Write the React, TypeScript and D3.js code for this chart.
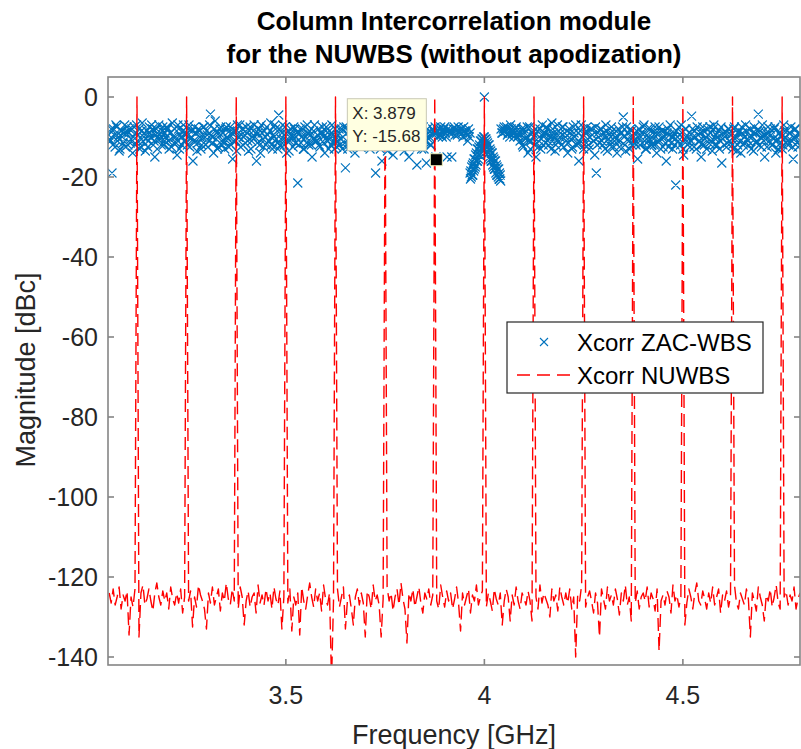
import React from "react";
import * as d3 from "d3";

// ---------- DATA ----------
// Xcorr ZAC-WBS (blue "x" markers), left part: start 3.054 GHz, step 0.004 GHz
const blueLeftStart = 3.054;
const blueLeftStep = 0.004;
const blueLeftValues = [
  -9.5,-11,-19,-8,-12.5,-7.5,-10,-13,-8.5,-11.5,-7,-9,
  -12,-8,-10.5,-14,-7.5,-9,-11,-8,-12.5,-6.5,-10,-13.5,
  -8.5,-11,-9,-7,-12,-15,-8,-10.5,-9.5,-12,-7.5,-11,
  -10,-8,-13,-9,-6.5,-11.5,-10,-14.5,-8,-9.5,-12,-7,
  -11,-9,-8,-12.5,-10,-16,-7.5,-9,-11.5,-8.5,-13,-10,
  -7.5,-12,-9.5,-11,-4.3,-10,-14,-6,-9,-12.5,-8,-11,
  -9,-13,-7.5,-10.5,-8.5,-12,-15.5,-9,-11,-7,-10,-12.5,
  -8,-10,-11.5,-9,-13.5,-7.5,-11,-8.5,-10,-16,-9,-12,
  -7,-10.5,-8.5,-12,-9.5,-11,-6.5,-13,-10,-8,-11.5,-4.5,
  -12,-9,-10.5,-7.5,-14,-8.5,-11,-9.5,-12.5,-8,-10,-21.5,
  -9,-11.5,-8,-13,-10,-7,-12,-9.5,-15,-8.5,-10.5,-11,
  -8,-12.5,-9,-10,-14,-7.5,-11,-8.5,-12,-9.5,-13,-10,
  -11,-8,-10.5,-13,-7.5,-17.7,-9,-12,-8.5,-10,-11.5,-14,
  -7,-10,-9,-12.5,-8,-11,-9.5,-12,-7.5,-12,-10.5,-8.5,
  -19,-11,-9,-13,-16,-8,-10.5,-12,-7.5,-9.5,-11,-14.5,
  -8.5,-10,-12,-9,-7,-11.5,-13.5,-8,-10,-15,-9.5,-11,
  -12,-8,-17,-10.5,-9,-13,-7.5,-11,-16.5,-9,-10,-12,
  -8,-9,-15,-8.5,-9.5,-7.5,-10,-8,-9,-15,-8.5,-9,
  -15,-8,-9.5,-8.5,-7.5,-9,-8,-10,-8.5,-9,-11,-10,
];
// second interleaved set, offset by half a step
const blueLeftValues2 = [
  -10.5,-8,-12,-9.5,-7,-11,-13.5,-8.5,-10,-9,-12.5,-7.5,
  -9,-11.5,-8,-10,-12,-7,-9.5,-13,-8.5,-11,-9,-10.5,
  -12.5,-7.5,-10,-8,-11,-9.5,-13,-7,-10.5,-8.5,-12,-9,
  -7.5,-11,-9,-12.5,-10,-8,-11.5,-7,-13,-10,-8.5,-11,
  -9.5,-12,-7,-10.5,-8.5,-11,-9,-13.5,-8,-10,-12,-7.5,
  -10,-8.5,-12.5,-7,-9.5,-11.5,-8,-10.5,-13,-9,-7.5,-12,
  -11,-8,-10,-12.5,-7.5,-9,-11,-8.5,-13.5,-10,-7,-9.5,
  -12,-9.5,-7.5,-11,-8.5,-13,-10,-7,-9,-11.5,-8,-14,
  -9,-12.5,-10,-7.5,-11,-8.5,-12,-9.5,-7,-10.5,-13,-8,
  -10.5,-7,-12,-9,-11,-13.5,-8,-10,-7.5,-11.5,-9,-12,
  -8,-10,-13,-7.5,-11.5,-9,-8.5,-12,-10.5,-7,-11,-9.5,
  -12,-9,-7.5,-11.5,-8.5,-10,-13,-9.5,-7,-11,-8,-12.5,
  -9.5,-12,-8,-10,-11.5,-7.5,-13,-8.5,-10.5,-12,-9,-7.5,
  -11,-8.5,-12.5,-10,-7,-9.5,-11.5,-8,-13,-9,-10.5,-12,
  -8,-10.5,-12,-7.5,-9,-11.5,-8.5,-13.5,-10,-7,-12,-9,
  -11.5,-8,-9.5,-12,-10,-7.5,-9,-11,-8.5,-12.5,-10,-7,
  -9,-12,-10.5,-8,-11,-7.5,-13,-9.5,-8,-10.5,-12,-9,
  -8.5,-7.5,-9,-10,-8,-9.5,-8.5,-7.5,-10,-8,-9,-8.5,
  -9,-7.5,-8,-9.5,-8.5,-8,-9,-7.5,-8.5,-9.5,-8,-9,
];
// right part: start 4.042 GHz, step 0.004 GHz
const blueRightStart = 4.042;
const blueRightStep = 0.004;
const blueRightValues = [
  -8,-9,-7.5,-8.5,-9.5,-8,-7,-9,-10,-8,-8.5,-9.5,
  -11,-8,-12.5,-9,-10,-14,-7.5,-11,-9,-12,-15,-8.5,
  -10,-13,-7,-9.5,-11.5,-8,-12,-10,-6.5,-9,-13.5,-11,
  -8.5,-10,-12,-7.5,-9,-11,-14,-8,-10.5,-12.5,-9,-7,
  -11.5,-16,-8.5,-10,-13,-9,-7.5,-12,-10,-8,-11,-14.5,
  -19,-9,-11.5,-8,-12,-10,-7,-13.5,-9.5,-11,-8.5,-12.5,
  -10,-14,-8,-11,-9,-5,-12,-7.5,-10.5,-13,-8.5,-11,
  -9,-12,-15.5,-8,-10,-11.5,-7,-13,-9.5,-11,-8,-12,
  -10.5,-7.5,-14,-9,-11,-8.5,-12.5,-10,-16,-8,-9.5,-11.5,
  -13,-9,-22,-10,-7.5,-12,-9,-14.5,-8,-11,-10,-12.5,
  -4.8,-10,-8.5,-13,-9.5,-11,-15,-7.5,-12,-10,-8,-11.5,
  -9,-13.5,-7,-10.5,-12,-8.5,-11,-16.5,-9,-10,-12.5,-8,
  -11,-9.5,-13,-7.5,-10,-12,-8.5,-14,-9,-11.5,-7,-10.5,
  -12,-8,-10,-13.5,-9,-11,-4.3,-8.5,-12.5,-10,-15,-9,
  -7.5,-11,-9.5,-12,-8,-14,-10.5,-9,-11.5,-13,-7,-10,
  -8.5,-12,-9,-11,-15.5,-8,-10,-12.5,-9.5,
];
const blueRightValues2 = [
  -9,-8,-8.5,-7.5,-9,-10,-8,-8.5,-9,-7.5,-10,-9,
  -9.5,-12,-8,-10.5,-7.5,-11,-13,-9,-10,-8,-11.5,-12.5,
  -8,-10.5,-12,-9,-7.5,-11,-9.5,-13,-8,-10,-12,-7,
  -11,-9,-7.5,-12.5,-10,-8.5,-11.5,-9,-13,-7.5,-10,-12,
  -9,-11.5,-7,-10,-12,-8.5,-10.5,-13,-8,-9.5,-11,-7.5,
  -12,-10,-8,-11,-9,-13,-8.5,-10.5,-12,-7.5,-9.5,-11,
  -8.5,-11,-12.5,-9,-7.5,-10,-13.5,-9,-11,-8,-12,-10,
  -11.5,-8.5,-10,-12,-9,-7.5,-11,-13,-8,-10.5,-12,-9,
  -12,-9,-11,-7.5,-13,-10,-8.5,-11.5,-9,-12.5,-7,-10,
  -10,-12,-8.5,-11,-9.5,-7,-13,-10.5,-8,-12,-9,-11,
  -8,-12.5,-10,-7.5,-11,-9,-12,-8.5,-10.5,-13,-9.5,-7.5,
  -11,-8,-12,-9.5,-10,-13,-7.5,-10.5,-12,-9,-11.5,-8,
  -9.5,-12,-8,-10.5,-13.5,-9,-11,-7.5,-12,-10,-8.5,-11,
  -10,-13,-9,-7.5,-11.5,-8.5,-12,-10,-7,-11,-9.5,-12.5,
  -9,-8,-12,-10.5,-7.5,-11,-13,-9,-10,-12,-8.5,-11.5,
  -11,-9,-7.5,-12.5,-10,-8,-11.5,-9,-12,
];
// "Λ" shaped cluster around 4 GHz: start 3.964 GHz, step 0.002 GHz
const blueNotchStart = 3.964;
const blueNotchStep = 0.002;
const blueNotchUpper = [
  -19,-18.5,-17.5,-17,-16.5,-15.5,-15.5,-14.5,-14,-13,-13,-12.5,-12,-11,-11,-10.5,-10.5,-10,-10,
  -10.5,-10.5,-11,-11.5,-12,-12,-13,-13.5,-14,-14,-15,-15.5,-16,-16,-17,-17.5,-18,-18,-19,-19.5,
];
const blueNotchLower = [
  -20.5,-20,-19.5,-19.5,-18.5,-18,-17.5,-17,-16,-16,-15.5,-14.5,-14.5,-14,-13,-13,-12.5,-12,-11.5,
  -12.5,-12.5,-13.5,-14,-14,-15,-15.5,-16,-16,-17,-17.5,-18,-18,-19,-19.5,-19.5,-20,-20.5,-20.5,-21,
];
const blueExtraFreq = [4.0];
const blueExtraValues = [0];

// Xcorr NUWBS (red dashed line): start 3.055 GHz, step 0.005 GHz
const redStart = 3.055;
const redStep = 0.005;
const redNoise = [
  -124,-126.5,-123,-127,-125,-122.5,-128,-124.5,-126,-123.5,
  -134.5,-125,-127.5,-123,-126,-135,-124,-122,-127,-125.5,
  -123,-126,-128.5,-124,-121.5,-125,-127,-123.5,-126,-124,
  -128,-122.5,-125.5,-127,-124,-126.5,-123,-129,-125,-124,
  -126,-123.5,-132.5,-125,-127.5,-122,-124.5,-126,-128,-133,
  -124,-126.5,-122.5,-127,-125,-123,-128.5,-124,-126,-121.5,
  -125.5,-127,-123,-126,-124,-128,-122.5,-125,-132,-126,
  -123.5,-127.5,-125,-124,-129,-122,-126.5,-124.5,-127,-123,
  -126,-124,-128,-122.5,-125.5,-127,-123.5,-133,-125,-124,
  -126.5,-123,-133.5,-125,-127,-124,-134.5,-122.5,-126,-128,
  -124.5,-121.5,-125,-127.5,-123,-126,-124,-128.5,-122,-125.5,
  -127,-124,-146,-126,-124,-123,-127.5,-125,-122.5,-133,
  -126,-124.5,-128,-132,-125,-123,-127,-124,-126.5,-135,
  -123.5,-125,-128,-122,-126,-124.5,-127,-135,-125.5,-124,
  -122.5,-126,-124,-128.5,-125,-123,-127,-121.5,-125.5,-128,
  -136.5,-124,-126,-123,-127.5,-125,-122.5,-126.5,-129,-124,
  -125.5,-123,-127,-124.5,-124,-126,-128,-122,-125,-127.5,
  -123.5,-126,-124,-128,-125.5,-122.5,-126.5,-133.5,-124,-127,
  -125,-123,-129,-124.5,-126,-122,-127,-125,-123.5,-124,
  -127.5,-124,-126,-128.5,-123,-125.5,-127,-124,-132,-126,
  -123,-125,-131,-124.5,-127,-122.5,-126,-128,-124,-125.5,
  -127,-123.5,-126,-131,-124,-125,-128,-122,-126.5,-124,
  -125.5,-127,-130,-123,-126,-124.5,-128.5,-122.5,-125,-127,
  -124,-126.5,-123,-128,-125,-140,-124.5,-126,-122,-124,
  -127.5,-125,-123.5,-126,-129,-124,-126.5,-135,-123,-125.5,
  -128,-122.5,-126,-124.5,-127,-123,-125.5,-129.5,-124,-126,
  -122,-127,-125,-131,-124,-126.5,-123.5,-128,-125,-124,
  -126,-122.5,-127.5,-124,-125.5,-128.5,-123,-138.5,-126,-124.5,
  -127,-123.5,-125,-129,-122,-126,-124.5,-127.5,-125,-124,
  -132,-126.5,-123,-125,-128,-124,-121.5,-126,-127,-123.5,
  -125.5,-128,-124,-126.5,-122.5,-127,-125,-123,-129,-124.5,
  -126,-123.5,-127.5,-125,-124,-122,-126.5,-128,-124,-125.5,
  -127,-123,-125.5,-135,-124,-126,-128.5,-122.5,-125,-127,
  -131,-124.5,-126,-123,-127.5,-125,-122,-126.5,-128,-124,
  -125,-123.5,-127,-124.5,-126,-122.5,-128,-125.5,-124,
];
const redSpikeFreqs = [3.125,3.25,3.375,3.5,3.625,3.75,3.875,4.0,4.125,4.25,4.375,4.5,4.625,4.75];
const redSpikeValue = 0;

// axis ticks and text
const xTicks = [3.5, 4, 4.5];
const yTicks = [-140, -120, -100, -80, -60, -40, -20, 0];
const xDomain = [3.052, 4.795];
const yDomain = [-142, 5];
const titleLines = ["Column Intercorrelation module", "for the NUWBS (without apodization)"];
const xLabel = "Frequency [GHz]";
const yLabel = "Magnitude [dBc]";
const legendLabels = ["Xcorr ZAC-WBS", "Xcorr NUWBS"];
const dataTip = { x: 3.879, y: -15.68 };

// ---------- COMPONENT ----------
export default function App() {
  const W = 801, H = 749;
  const L = 108, R = 800, T = 77, B = 665;
  const x = d3.scaleLinear().domain(xDomain).range([L, R]);
  const y = d3.scaleLinear().domain(yDomain).range([B, T]);

  const font = "'Liberation Sans', Arial, Helvetica, sans-serif";
  const axisColor = "#858585";
  const textColor = "#262626";

  // blue points
  const bluePts: [number, number][] = [];
  blueLeftValues.forEach((v, i) => bluePts.push([blueLeftStart + i * blueLeftStep, v]));
  blueLeftValues2.forEach((v, i) => bluePts.push([blueLeftStart + (i + 0.5) * blueLeftStep, v]));
  blueRightValues.forEach((v, i) => bluePts.push([blueRightStart + i * blueRightStep, v]));
  blueRightValues2.forEach((v, i) => bluePts.push([blueRightStart + (i + 0.5) * blueRightStep, v]));
  blueNotchUpper.forEach((v, i) => bluePts.push([blueNotchStart + i * blueNotchStep, v]));
  blueNotchLower.forEach((v, i) => bluePts.push([blueNotchStart + i * blueNotchStep + 0.001, v]));
  blueExtraFreq.forEach((f, i) => bluePts.push([f, blueExtraValues[i]]));

  const s = 4.5;
  const markerPath = bluePts
    .map(([f, v]) => {
      const px = x(f), py = y(v);
      return `M${px - s},${py - s}L${px + s},${py + s}M${px - s},${py + s}L${px + s},${py - s}`;
    })
    .join("");

  // red series
  const redVals = redNoise.slice();
  redSpikeFreqs.forEach((f) => {
    const idx = Math.round((f - redStart) / redStep);
    if (idx >= 0 && idx < redVals.length) redVals[idx] = redSpikeValue;
  });
  const redPts: [number, number][] = redVals.map((v, i) => [redStart + i * redStep, v]);
  const redLine = d3
    .line<[number, number]>()
    .x((d) => x(d[0]))
    .y((d) => y(d[1]))(redPts) as string;

  const tipX = x(dataTip.x), tipY = y(dataTip.y);

  return (
    <svg
      width={W}
      height={H}
      style={{ position: "absolute", left: 0, top: 0, background: "#fff" }}
      fontFamily={font}
    >
      <defs>
        <clipPath id="plotClip">
          <rect x={L} y={T} width={R - L} height={B - T} />
        </clipPath>
      </defs>
      <rect x={0} y={0} width={W} height={H} fill="#fff" />

      {/* title */}
      <text x={454} y={30} textAnchor="middle" fontSize={26} fontWeight="bold" fill="#000">
        {titleLines[0]}
      </text>
      <text x={454} y={63} textAnchor="middle" fontSize={26} fontWeight="bold" fill="#000">
        {titleLines[1]}
      </text>

      {/* data */}
      <g clipPath="url(#plotClip)">
        <path d={markerPath} stroke="#0072BD" strokeWidth={1.1} fill="none" />
        <path
          d={redLine}
          stroke="#ff0000"
          strokeWidth={1.4}
          fill="none"
          strokeDasharray="13,6"
          strokeLinejoin="round"
        />
      </g>

      {/* axes box */}
      <rect x={L} y={T} width={R - L} height={B - T} fill="none" stroke={axisColor} strokeWidth={1.6} />
      {xTicks.map((t) => (
        <g key={"xt" + t}>
          <line x1={x(t)} x2={x(t)} y1={B} y2={B - 6} stroke={axisColor} strokeWidth={1.6} />
          <line x1={x(t)} x2={x(t)} y1={T} y2={T + 6} stroke={axisColor} strokeWidth={1.6} />
          <text x={x(t)} y={704} textAnchor="middle" fontSize={25} fill={textColor}>
            {String(t)}
          </text>
        </g>
      ))}
      {yTicks.map((t) => (
        <g key={"yt" + t}>
          <line x1={L} x2={L + 6} y1={y(t)} y2={y(t)} stroke={axisColor} strokeWidth={1.6} />
          <line x1={R} x2={R - 6} y1={y(t)} y2={y(t)} stroke={axisColor} strokeWidth={1.6} />
          <text x={98} y={y(t) + 9} textAnchor="end" fontSize={25} fill={textColor}>
            {String(t)}
          </text>
        </g>
      ))}
      <text x={454} y={744} textAnchor="middle" fontSize={27} fill={textColor}>
        {xLabel}
      </text>
      <text
        transform={`translate(35,370) rotate(-90)`}
        textAnchor="middle"
        fontSize={27}
        fill={textColor}
      >
        {yLabel}
      </text>

      {/* legend */}
      <g>
        <rect x={507} y={322} width={256} height={71} fill="#fff" stroke="#262626" strokeWidth={1.2} />
        <path
          d={`M${544 - 4},${342 - 4}L${544 + 4},${342 + 4}M${544 - 4},${342 + 4}L${544 + 4},${342 - 4}`}
          stroke="#0072BD"
          strokeWidth={1.1}
        />
        <line x1={517} x2={572} y1={375} y2={375} stroke="#ff0000" strokeWidth={1.4} strokeDasharray="13,7" />
        <text x={577} y={351} fontSize={24} fill="#000">
          {legendLabels[0]}
        </text>
        <text x={577} y={384} fontSize={24} fill="#000">
          {legendLabels[1]}
        </text>
      </g>

      {/* data tip */}
      <g>
        <rect x={tipX - 89} y={tipY - 61} width={79} height={52} fill="#ffffe1" stroke="#c8c8b4" strokeWidth={1} />
        <text x={tipX - 84} y={tipY - 41} fontSize={17} fill="#262626">
          {`X: ${dataTip.x}`}
        </text>
        <text x={tipX - 84} y={tipY - 18} fontSize={17} fill="#262626">
          {`Y: ${dataTip.y}`}
        </text>
        <rect x={tipX - 6} y={tipY - 6} width={12} height={12} fill="#000" stroke="#f2f2c0" strokeWidth={1} />
      </g>
    </svg>
  );
}
